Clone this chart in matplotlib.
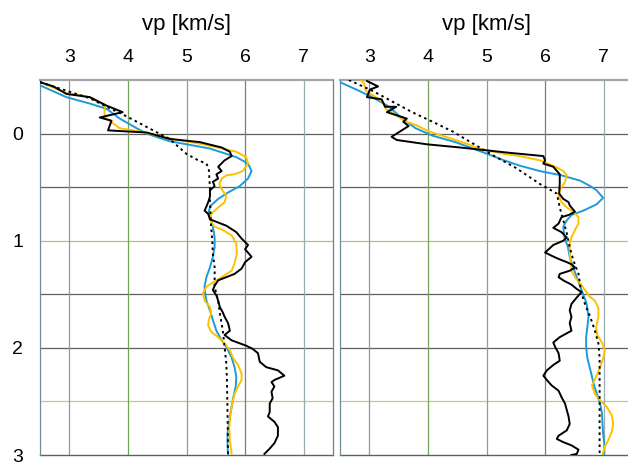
import matplotlib.pyplot as plt

plt.rcParams['font.family'] = ['Liberation Sans', 'DejaVu Sans']

# velocity (km/s) and depth values
left_black_v = [2.50, 2.73, 2.95, 3.35, 3.64, 3.91, 3.52, 3.72, 3.66, 3.98, 4.32, 4.71, 5.23, 5.60, 5.74,
                5.77, 5.65, 5.54, 5.60, 5.51, 5.54, 5.45, 5.48, 5.40, 5.40, 5.37, 5.31, 5.37, 5.40, 5.68,
                5.85, 5.94, 6.05, 6.00, 6.11, 6.00, 5.94, 5.82, 5.68, 5.54, 5.48, 5.45, 5.51, 5.54, 5.57,
                5.62, 5.65, 5.71, 5.74, 5.65, 5.77, 6.02, 6.13, 6.22, 6.25, 6.36, 6.56, 6.67, 6.50, 6.45,
                6.50, 6.45, 6.47, 6.42, 6.42, 6.39, 6.50, 6.56, 6.56, 6.50, 6.42, 6.33]
left_black_d = [-0.48, -0.44, -0.37, -0.34, -0.26, -0.20, -0.15, -0.12, -0.03, -0.02, -0.01, 0.05, 0.08, 0.13, 0.17,
                0.21, 0.25, 0.31, 0.35, 0.38, 0.42, 0.45, 0.49, 0.53, 0.59, 0.64, 0.72, 0.75, 0.80, 0.86,
                0.92, 0.98, 1.04, 1.08, 1.15, 1.20, 1.26, 1.31, 1.34, 1.37, 1.42, 1.46, 1.51, 1.56, 1.62,
                1.67, 1.71, 1.77, 1.84, 1.88, 1.93, 1.98, 2.01, 2.05, 2.13, 2.18, 2.21, 2.26, 2.30, 2.32,
                2.36, 2.41, 2.47, 2.52, 2.60, 2.64, 2.69, 2.74, 2.82, 2.89, 2.94, 2.99]

left_yellow_v = [2.50, 2.95, 3.35, 3.61, 3.60, 3.61, 3.86, 4.20, 4.77, 5.28, 5.62, 5.85, 6.02, 6.05, 5.96,
                 5.82, 5.68, 5.60, 5.56, 5.60, 5.68, 5.65, 5.54, 5.42, 5.40, 5.48, 5.62, 5.77, 5.85, 5.86,
                 5.82, 5.77, 5.60, 5.45, 5.34, 5.28, 5.31, 5.40, 5.42, 5.38, 5.37, 5.42, 5.54, 5.65, 5.74,
                 5.79, 5.88, 5.94, 5.94, 5.88, 5.82, 5.78, 5.75, 5.73, 5.74, 5.77]
left_yellow_d = [-0.48, -0.38, -0.34, -0.26, -0.20, -0.15, -0.05, -0.02, 0.05, 0.10, 0.14, 0.17, 0.22, 0.28, 0.35,
                 0.38, 0.39, 0.42, 0.47, 0.52, 0.58, 0.64, 0.69, 0.75, 0.81, 0.87, 0.90, 0.95, 1.03, 1.12,
                 1.21, 1.28, 1.34, 1.39, 1.43, 1.49, 1.56, 1.62, 1.68, 1.74, 1.79, 1.85, 1.90, 1.96, 2.02,
                 2.09, 2.16, 2.24, 2.30, 2.36, 2.43, 2.52, 2.61, 2.74, 2.86, 2.99]

left_blue_v = [2.50, 2.95, 3.35, 3.64, 3.86, 4.15, 4.32, 4.70, 5.40, 5.85, 6.05, 6.11, 6.05, 5.91, 5.71,
               5.54, 5.42, 5.38, 5.41, 5.45, 5.48, 5.48, 5.45, 5.40, 5.34, 5.31, 5.31, 5.34, 5.40, 5.45,
               5.51, 5.60, 5.68, 5.77, 5.82, 5.85, 5.84, 5.80, 5.77, 5.73, 5.70, 5.70, 5.71]
left_blue_d = [-0.45, -0.34, -0.28, -0.23, -0.14, -0.05, 0.00, 0.07, 0.14, 0.22, 0.28, 0.35, 0.42, 0.49, 0.55,
               0.61, 0.67, 0.72, 0.78, 0.87, 0.97, 1.06, 1.15, 1.25, 1.34, 1.42, 1.46, 1.56, 1.65, 1.74,
               1.84, 1.93, 1.99, 2.09, 2.18, 2.27, 2.36, 2.46, 2.55, 2.68, 2.80, 2.92, 2.99]

left_model_v = [2.50, 2.95, 3.35, 3.64, 3.98, 4.43, 4.71, 5.00, 5.20, 5.34, 5.38, 5.40, 5.40, 5.41, 5.42,
                5.44, 5.45, 5.48, 5.48, 5.48, 5.54, 5.57, 5.62, 5.65, 5.68, 5.69, 5.70, 5.71]
left_model_d = [-0.48, -0.40, -0.33, -0.25, -0.16, -0.03, 0.05, 0.19, 0.25, 0.28, 0.33, 0.50, 0.63, 0.75, 0.87,
                1.00, 1.12, 1.25, 1.34, 1.43, 1.56, 1.68, 1.84, 1.99, 2.15, 2.30, 2.61, 2.99]

right_black_v = [2.96, 3.15, 3.01, 2.96, 3.21, 3.27, 3.46, 3.30, 3.64, 3.58, 3.67, 3.38, 3.47, 3.98, 4.55,
                 5.40, 5.97, 6.00, 5.97, 6.14, 6.25, 6.25, 6.24, 6.31, 6.40, 6.42, 6.51, 6.40, 6.28, 6.23,
                 6.14, 6.28, 6.37, 6.31, 6.14, 6.00, 6.11, 6.23, 6.37, 6.45, 6.51, 6.42, 6.25, 6.23, 6.31,
                 6.45, 6.54, 6.62, 6.54, 6.45, 6.42, 6.45, 6.42, 6.45, 6.25, 6.14, 6.17, 6.23, 6.25, 6.14,
                 6.03, 5.97, 6.03, 6.11, 6.23, 6.28, 6.34, 6.37, 6.40, 6.42, 6.37, 6.23, 6.20, 6.31, 6.45,
                 6.57, 6.54, 6.45]
right_black_d = [-0.49, -0.44, -0.41, -0.34, -0.32, -0.25, -0.25, -0.20, -0.14, -0.11, -0.07, 0.03, 0.06, 0.10, 0.13,
                 0.18, 0.21, 0.25, 0.28, 0.31, 0.38, 0.47, 0.56, 0.61, 0.64, 0.67, 0.73, 0.76, 0.78, 0.84,
                 0.88, 0.92, 0.97, 1.00, 1.04, 1.11, 1.14, 1.17, 1.20, 1.22, 1.25, 1.28, 1.31, 1.34, 1.37,
                 1.41, 1.45, 1.48, 1.53, 1.59, 1.65, 1.71, 1.77, 1.84, 1.90, 1.95, 1.99, 2.05, 2.12, 2.16,
                 2.21, 2.26, 2.30, 2.35, 2.40, 2.46, 2.52, 2.58, 2.64, 2.71, 2.77, 2.82, 2.85, 2.88, 2.91,
                 2.95, 2.99, 3.00]

right_yellow_v = [2.85, 2.91, 2.94, 3.02, 3.11, 3.22, 3.28, 3.39, 3.59, 3.79, 4.02, 4.30, 4.64, 4.87, 5.30,
                  5.57, 5.91, 6.14, 6.31, 6.37, 6.34, 6.25, 6.23, 6.28, 6.37, 6.48, 6.57, 6.57, 6.51, 6.45,
                  6.42, 6.42, 6.44, 6.45, 6.51, 6.60, 6.68, 6.76, 6.85, 6.91, 6.91, 6.87, 6.89, 6.97, 7.02,
                  6.99, 6.94, 6.87, 6.80, 6.85, 6.94, 7.05, 7.14, 7.16, 7.14, 7.08, 7.02, 6.98]
right_yellow_d = [-0.50, -0.47, -0.40, -0.37, -0.34, -0.30, -0.23, -0.20, -0.12, -0.08, -0.02, 0.03, 0.09, 0.14, 0.19,
                  0.21, 0.25, 0.30, 0.35, 0.39, 0.45, 0.53, 0.58, 0.64, 0.69, 0.73, 0.78, 0.84, 0.90, 0.97,
                  1.03, 1.12, 1.21, 1.28, 1.34, 1.40, 1.46, 1.52, 1.56, 1.63, 1.71, 1.81, 1.88, 1.95, 2.02,
                  2.10, 2.18, 2.27, 2.35, 2.43, 2.49, 2.55, 2.63, 2.71, 2.78, 2.86, 2.92, 3.00]

right_blue_v = [2.50, 2.82, 3.05, 3.34, 3.56, 3.79, 4.08, 4.47, 4.87, 5.30, 5.57, 5.91, 6.28, 6.60, 6.77,
                6.88, 6.99, 6.88, 6.65, 6.45, 6.37, 6.31, 6.33, 6.39, 6.42, 6.48, 6.54, 6.60, 6.65, 6.71,
                6.74, 6.72, 6.70, 6.70, 6.72, 6.76, 6.80, 6.84, 6.89, 6.94, 6.97, 6.98, 6.99, 7.01, 7.01]
right_blue_d = [-0.48, -0.40, -0.34, -0.25, -0.14, -0.05, 0.02, 0.08, 0.16, 0.25, 0.30, 0.35, 0.39, 0.44, 0.49,
                0.53, 0.60, 0.66, 0.72, 0.76, 0.81, 0.87, 0.97, 1.06, 1.15, 1.25, 1.34, 1.43, 1.50, 1.59,
                1.71, 1.81, 1.90, 1.99, 2.09, 2.18, 2.27, 2.36, 2.44, 2.52, 2.61, 2.71, 2.80, 2.89, 2.99]

right_model_v = [2.65, 3.05, 3.39, 3.73, 4.08, 4.42, 4.76, 5.10, 5.50, 5.91, 6.20, 6.25, 6.31, 6.37, 6.42,
                 6.48, 6.57, 6.62, 6.68, 6.77, 6.85, 6.91, 6.93, 6.93, 6.93, 6.93]
right_model_d = [-0.50, -0.40, -0.30, -0.20, -0.11, -0.02, 0.09, 0.20, 0.32, 0.47, 0.56, 0.69, 0.81, 0.93, 1.06,
                 1.18, 1.31, 1.49, 1.59, 1.71, 1.84, 1.96, 2.09, 2.40, 2.71, 2.99]

v_ticks = [3, 4, 5, 6, 7]
d_ticks = [0, 1, 2, 3]
h_grid = [0, 0.5, 1, 1.5, 2, 2.5]
h_grid_col = ['#5f5f5f', '#5f5f5f', '#b4c07c', '#5f5f5f', '#5f5f5f', '#c2c88a']
v_grid_col = ['#7f9db0', '#72a45a', '#86a58a', '#6f8478', '#98aab0']

yellow = '#fcc200'
blue = '#1c9bd8'

W, H = 628, 466
fig = plt.figure(figsize=(W / 100, H / 100), dpi=100)
ax1 = fig.add_axes([40 / W, 11 / H, 293 / W, 375 / H])
ax2 = fig.add_axes([340 / W, 11 / H, 293 / W, 375 / H])

panels = [
    (ax1, left_black_v, left_black_d, left_yellow_v, left_yellow_d, left_blue_v, left_blue_d, left_model_v, left_model_d),
    (ax2, right_black_v, right_black_d, right_yellow_v, right_yellow_d, right_blue_v, right_blue_d, right_model_v, right_model_d),
]

for ax, bv, bd, yv, yd, cv, cd, mv, md in panels:
    ax.set_xlim(2.5, 7.5)
    ax.set_ylim(3, -0.5)
    for s in ax.spines.values():
        s.set_visible(False)
    for y, c in zip(h_grid, h_grid_col):
        ax.axhline(y, color=c, lw=0.9, zorder=1)
    for x, c in zip(v_ticks, v_grid_col):
        ax.axvline(x, color=c, lw=0.9, zorder=1)
    ax.axhline(-0.5, color='#a5a5a5', lw=1.6, zorder=1, clip_on=False)
    ax.axhline(3, color='#5f5f5f', lw=1.0, zorder=1, clip_on=False)
    ax.axvline(2.5, color='#6f8a9a', lw=0.9, zorder=1, clip_on=False)

    ax.plot(cv, cd, color=blue, lw=1.4, zorder=3)
    ax.plot(yv, yd, color=yellow, lw=1.4, zorder=3)
    ax.plot(bv, bd, color='black', lw=1.4, zorder=4)
    ax.plot(mv, md, color='black', lw=1.4, ls=(0, (1.3, 1.8)), zorder=5)

    ax.xaxis.tick_top()
    ax.xaxis.set_label_position('top')
    ax.set_xticks(v_ticks)
    ax.set_xticklabels([str(v) for v in v_ticks])
    ax.set_xlabel('vp [km/s]', fontsize=16, labelpad=14)
    ax.tick_params(axis='x', length=0, labelsize=14, pad=10)

ax1.axvline(7.5, color='#6f7f88', lw=0.9, zorder=1, clip_on=False)
ax1.set_yticks(d_ticks)
ax1.set_yticklabels([str(d) for d in d_ticks])
ax1.tick_params(axis='y', length=0, labelsize=14, pad=12)
ax2.set_yticks([])

fig.savefig('out.png', dpi=100)
